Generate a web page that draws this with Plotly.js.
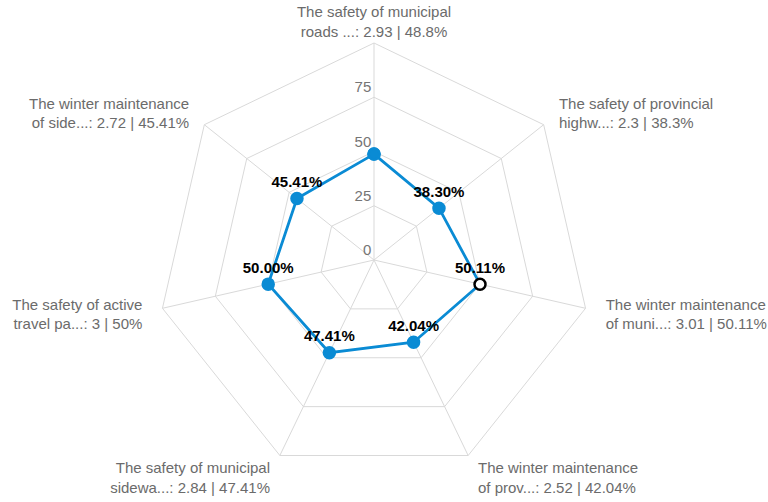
<!DOCTYPE html>
<html>
<head>
<meta charset="utf-8">
<script src="https://cdn.plot.ly/plotly-3.0.1.min.js"></script>
<style>html,body{margin:0;padding:0;background:#fff;}#chart{width:768px;height:502px;}</style>
</head>
<body>
<div id="chart"></div>
<script>
var categories = [
  "The safety of municipal<br>roads ...: 2.93 | 48.8%",
  "The safety of provincial<br>highw...: 2.3 | 38.3%",
  "The winter maintenance<br>of muni...: 3.01 | 50.11%",
  "The winter maintenance<br>of prov...: 2.52 | 42.04%",
  "The safety of municipal<br>sidewa...: 2.84 | 47.41%",
  "The safety of active<br>travel pa...: 3 | 50%",
  "The winter maintenance<br>of side...: 2.72 | 45.41%"
];
var values = [48.8, 38.3, 50.11, 42.04, 47.41, 50.0, 45.41];
var pointLabels = ["", "38.30%", "50.11%", "42.04%", "47.41%", "50.00%", "45.41%"];
var radialTicks = [0, 25, 50, 75];
var radialTickText = ["0", "25", "50", "75"];

// extra horizontal gap between each category label and the chart (style only)
var labelGap = [0, 3, 4, 2, 2, 4, 3];
var labelSide = [0, 1, 1, 1, -1, -1, -1];
var NB = "\u00a0";
var angularText = categories.map(function(c, i){
  var pad = new Array(labelGap[i] + 1).join(NB);
  return c.split("<br>").map(function(line){
    if (labelSide[i] > 0) return pad + line;
    if (labelSide[i] < 0) return line + pad;
    return line;
  }).join("<br>");
});

var markerFill = values.map(function(v, i){ return i === 2 ? "#ffffff" : "#0a8bd4"; });
var markerEdge = values.map(function(v, i){ return i === 2 ? "#000000" : "#0a8bd4"; });

var trace = {
  type: "scatterpolar",
  r: values.concat([values[0]]),
  theta: categories.concat([categories[0]]),
  text: pointLabels.concat([""]),
  mode: "lines+markers+text",
  textposition: "top center",
  textfont: {family: "Liberation Sans, Arial, sans-serif", size: 15, color: "#000", weight: "bold"},
  line: {color: "#0a8bd4", width: 2.8},
  marker: {size: 11, color: markerFill.concat([markerFill[0]]),
           line: {color: markerEdge.concat([markerEdge[0]]), width: 2.5}},
  cliponaxis: false,
  hoverinfo: "none"
};

var layout = {
  width: 768, height: 502,
  margin: {l: 150, r: 170, t: 43, b: 25},
  paper_bgcolor: "#fff",
  showlegend: false,
  font: {family: "Liberation Sans, Arial, sans-serif"},
  polar: {
    bgcolor: "#fff",
    gridshape: "linear",
    radialaxis: {
      range: [0, 100],
      tickmode: "array",
      tickvals: radialTicks,
      ticktext: radialTickText.map(function(t){ return t + "<br>" + NB; }),
      angle: 90,
      side: "counterclockwise",
      tickangle: 90,
      showline: false,
      ticks: "",
      gridcolor: "#d9d9d9",
      tickfont: {size: 15, color: "#757575"}
    },
    angularaxis: {
      direction: "clockwise",
      rotation: 90,
      tickmode: "array",
      tickvals: categories,
      ticktext: angularText,
      showline: true,
      linecolor: "#d9d9d9",
      gridcolor: "#d9d9d9",
      ticks: "",
      tickfont: {size: 15, color: "#6b6b6b"}
    }
  }
};

Plotly.newPlot("chart", [trace], layout, {displayModeBar: false, staticPlot: true});
</script>
</body>
</html>
